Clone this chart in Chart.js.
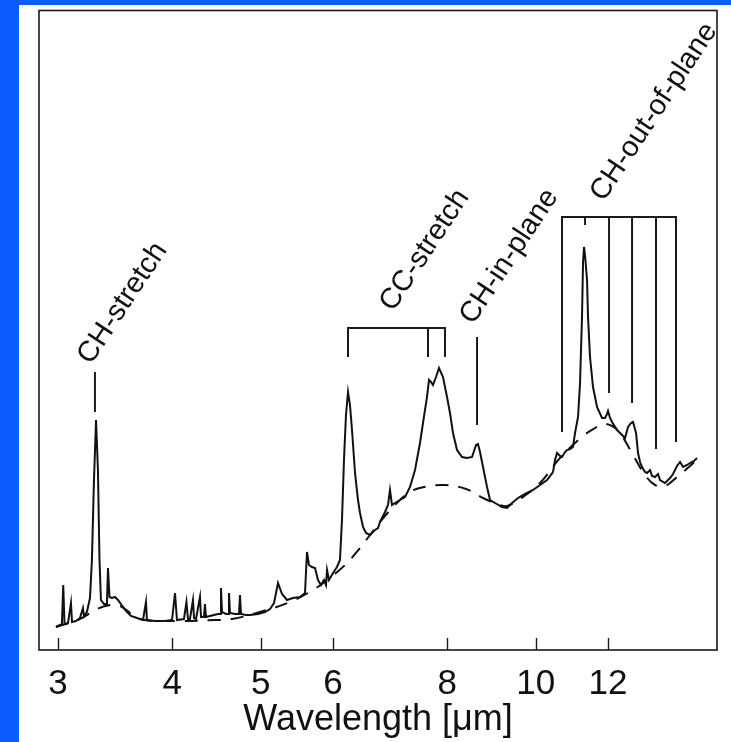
<!DOCTYPE html>
<html>
<head>
<meta charset="utf-8">
<script src="https://cdn.jsdelivr.net/npm/chart.js@4.4.1/dist/chart.umd.min.js"></script>
<style>
  html, body { margin: 0; padding: 0; width: 731px; height: 742px; overflow: hidden; background: #0a5cff; }
  #wrap { position: absolute; left: 19px; top: 5px; width: 712px; height: 737px; background: #fff; }
</style>
</head>
<body>
<div id="wrap"><canvas id="pah" width="712" height="737"></canvas></div>
<script>
// ISO spectrum, wavelength in micron, flux in arbitrary units
const wavelength = [
  2.985, 3.000, 3.030, 3.040, 3.050, 3.077, 3.100, 3.108, 3.139, 3.171,
  3.195, 3.203, 3.227, 3.252, 3.268, 3.285, 3.302, 3.318, 3.331, 3.343,
  3.369, 3.394, 3.403, 3.416, 3.437, 3.463, 3.490, 3.534, 3.570, 3.606,
  3.661, 3.717, 3.745, 3.754, 3.831, 3.929, 3.999, 4.029, 4.049, 4.121,
  4.147, 4.163, 4.184, 4.216, 4.227, 4.248, 4.291, 4.302, 4.334, 4.345,
  4.356, 4.400, 4.445, 4.490, 4.513, 4.524, 4.536, 4.581, 4.605, 4.616,
  4.628, 4.687, 4.734, 4.746, 4.758, 4.818, 4.867, 4.966, 5.055, 5.119,
  5.171, 5.223, 5.276, 5.343, 5.424, 5.521, 5.591, 5.619, 5.647, 5.690,
  5.734, 5.777, 5.821, 5.865, 5.895, 5.910, 5.939, 6.000, 6.060, 6.106,
  6.137, 6.168, 6.199, 6.231, 6.262, 6.294, 6.342, 6.390, 6.422, 6.471,
  6.520, 6.586, 6.670, 6.720, 6.754, 6.840, 6.892, 6.926, 6.961, 7.014,
  7.103, 7.193, 7.285, 7.377, 7.470, 7.527, 7.603, 7.642, 7.680, 7.719,
  7.778, 7.837, 7.916, 7.997, 8.057, 8.118, 8.201, 8.305, 8.410, 8.517,
  8.603, 8.646, 8.690, 8.756, 8.845, 8.912, 9.025, 9.185, 9.302, 9.420,
  9.563, 9.734, 9.932, 10.109, 10.289, 10.445, 10.498, 10.551, 10.631, 10.685,
  10.766, 10.820, 10.903, 10.985, 11.041, 11.125, 11.181, 11.237, 11.266, 11.294,
  11.323, 11.380, 11.409, 11.466, 11.553, 11.670, 11.818, 11.908, 11.968, 11.998,
  12.059, 12.120, 12.274, 12.429, 12.524, 12.619, 12.714, 12.779, 12.876, 12.941,
  13.006, 13.072, 13.171, 13.238, 13.338, 13.406, 13.507, 13.610, 13.679, 13.852,
  13.957, 14.028, 14.134, 14.206, 14.277, 14.386, 14.495, 14.642, 14.753, 14.902,
  15.015
];
const flux = [
  2.3, 2.4, 2.6, 6.5, 2.6, 2.7, 4.7, 2.8, 2.9, 3.2,
  4.2, 3.4, 3.8, 5.2, 9.0, 17.0, 23.0, 18.0, 9.0, 5.0,
  4.6, 4.6, 8.2, 5.3, 5.2, 5.3, 5.0, 4.3, 3.8, 3.4,
  3.2, 3.0, 4.8, 3.0, 2.9, 2.9, 3.0, 5.7, 3.0, 3.1,
  4.8, 3.1, 3.1, 5.0, 3.2, 3.1, 5.3, 3.3, 3.3, 4.6,
  3.3, 3.4, 3.5, 3.6, 3.6, 6.2, 3.8, 3.6, 3.6, 5.7,
  3.7, 3.6, 3.6, 5.5, 3.6, 3.5, 3.5, 3.6, 3.8, 4.1,
  4.7, 6.7, 5.6, 5.0, 5.2, 5.3, 5.7, 9.8, 8.5, 8.3,
  8.2, 7.0, 6.5, 7.0, 6.5, 8.0, 7.0, 7.7, 8.3, 9.0,
  13.0, 19.0, 23.5, 25.8, 24.5, 22.0, 17.7, 15.0, 13.7, 12.3,
  11.7, 11.5, 12.0, 12.2, 12.8, 13.8, 14.5, 16.0, 14.5, 14.7,
  15.0, 15.3, 16.3, 18.0, 20.7, 22.7, 25.3, 27.0, 26.8, 26.5,
  27.3, 28.2, 27.3, 25.3, 23.7, 21.7, 20.0, 19.3, 19.2, 19.3,
  20.5, 20.6, 19.8, 18.3, 16.3, 15.0, 14.7, 14.3, 14.2, 14.7,
  15.2, 15.6, 16.0, 16.5, 17.0, 17.8, 19.0, 19.7, 19.4, 19.3,
  19.8, 20.0, 20.1, 20.3, 21.7, 23.3, 26.7, 33.3, 38.8, 40.3,
  39.5, 37.0, 33.3, 29.3, 26.3, 24.3, 23.2, 23.2, 23.6, 23.9,
  23.2, 22.8, 22.0, 21.5, 21.2, 22.3, 22.7, 22.8, 21.7, 19.7,
  18.8, 18.3, 17.8, 17.7, 18.0, 17.4, 17.3, 17.6, 17.0, 16.7,
  17.0, 17.2, 17.6, 18.0, 18.4, 18.8, 18.3, 18.5, 18.7, 18.9,
  19.2
];

// underlying continuum (dashed)
const contWavelength = [
  2.985, 3.171, 3.310, 3.420, 3.490, 3.552, 3.689, 4.029, 4.456, 4.651,
  4.991, 5.383, 5.705, 5.910, 6.184, 6.422, 6.754, 7.014, 7.285, 7.546,
  7.956, 8.389, 8.800, 9.139, 9.302, 9.612, 10.109, 10.631, 11.266, 11.612,
  11.848, 12.120, 12.367, 12.779, 13.171, 13.507, 13.852, 14.277, 15.015
];
const contFlux = [
  2.3, 3.1, 4.1, 4.5, 4.5, 4.1, 3.1, 2.9, 3.0, 3.1,
  3.8, 4.8, 6.0, 7.0, 8.5, 10.2, 12.8, 14.5, 15.8, 16.3,
  16.5, 16.1, 15.1, 14.5, 14.4, 15.1, 16.7, 19.2, 21.4, 22.2,
  22.6, 22.4, 21.7, 19.5, 17.5, 16.5, 16.4, 17.3, 19.0
];

const tickValues = [3, 4, 5, 6, 8, 10, 12];

// vibrational band identifications
const bandNames = ['CH-stretch', 'CC-stretch', 'CH-in-plane', 'CH-out-of-plane'];
const bandLines = [[3.293], [6.231, 7.623, 7.956], [8.625], [10.685, 11.323, 12.029, 12.747, 13.541, 14.241]];
const bandTops = [27.8, 32.2, 31.3, 43.3];
const bandBottoms = [[23.8], [29.3, 29.3, 29.3], [22.5], [21.8, 42.5, 25.7, 24.7, 20.1, 20.8]];

// where each band name starts (wavelength, flux)
const labelSpots = [[3.207, 28.9], [6.866, 34.2], [8.399, 32.9], [11.670, 45.2]];

const FONT = '"Liberation Sans", Arial, Helvetica, sans-serif';
Chart.defaults.font.family = FONT;

function markerPoints(lines, top, bottoms) {
  const pts = [];
  if (lines.length > 1) {
    const last = lines.length - 1;
    pts.push({x: lines[0], y: bottoms[0]}, {x: lines[0], y: top},
             {x: lines[last], y: top}, {x: lines[last], y: bottoms[last]});
    for (let i = 1; i < last; i++) {
      pts.push({x: lines[i], y: null}, {x: lines[i], y: top}, {x: lines[i], y: bottoms[i]});
    }
  } else {
    pts.push({x: lines[0], y: top}, {x: lines[0], y: bottoms[0]});
  }
  return pts;
}

const markerSets = bandNames.map((name, i) => ({
  label: name,
  data: markerPoints(bandLines[i], bandTops[i], bandBottoms[i]),
  borderColor: '#1a1a1a',
  borderWidth: 2,
  pointRadius: 0,
  tension: 0
}));

const frameAndLabels = {
  id: 'frameAndLabels',
  afterDatasetsDraw(chart) {
    const {ctx, chartArea: a, scales: {x, y}} = chart;
    ctx.save();
    ctx.strokeStyle = '#1a1a1a';
    ctx.lineWidth = 1.6;
    ctx.strokeRect(a.left, a.top, a.right - a.left, a.bottom - a.top);
    // tick marks point into the plot
    ctx.lineWidth = 1.4;
    tickValues.forEach(v => {
      const px = Math.round(x.getPixelForValue(v)) + 0.5;
      ctx.beginPath();
      ctx.moveTo(px, a.bottom);
      ctx.lineTo(px, a.bottom - 12);
      ctx.stroke();
    });
    ctx.fillStyle = '#111';
    ctx.font = '29px ' + FONT;
    ctx.textAlign = 'left';
    ctx.textBaseline = 'middle';
    bandNames.forEach((name, i) => {
      ctx.save();
      ctx.translate(x.getPixelForValue(labelSpots[i][0]), y.getPixelForValue(labelSpots[i][1]));
      ctx.rotate(-56.5 * Math.PI / 180);
      ctx.fillText(name, 0, 0);
      ctx.restore();
    });
    ctx.restore();
  }
};

new Chart(document.getElementById('pah'), {
  type: 'line',
  data: {
    datasets: [
      {
        label: 'spectrum',
        data: wavelength.map((w, i) => ({x: w, y: flux[i]})),
        borderColor: '#111',
        borderWidth: 2,
        pointRadius: 0,
        tension: 0
      },
      {
        label: 'continuum',
        data: contWavelength.map((w, i) => ({x: w, y: contFlux[i]})),
        borderColor: '#111',
        borderWidth: 2,
        borderDash: [13, 10],
        pointRadius: 0,
        tension: 0.4
      },
      ...markerSets
    ]
  },
  options: {
    responsive: false,
    animation: false,
    layout: { padding: { left: 20, right: 14, top: 5.5, bottom: 4 } },
    plugins: { legend: { display: false }, tooltip: { enabled: false } },
    scales: {
      x: {
        type: 'logarithmic',
        min: 2.86,
        max: 15.79,
        afterBuildTicks: s => { s.ticks = tickValues.map(v => ({value: v})); },
        grid: { display: false, drawTicks: false },
        border: { display: false },
        ticks: {
          autoSkip: false,
          maxRotation: 0,
          minRotation: 0,
          padding: 17,
          color: '#111',
          font: { size: 35, lineHeight: 1 },
          callback: v => String(v)
        },
        title: {
          display: true,
          text: 'Wavelength [μm]',
          color: '#111',
          font: { size: 36, lineHeight: 1 },
          padding: { top: -17, bottom: 0 }
        }
      },
      y: { display: false, min: 0, max: 63.95 }
    }
  },
  plugins: [frameAndLabels]
});
</script>
</body>
</html>
